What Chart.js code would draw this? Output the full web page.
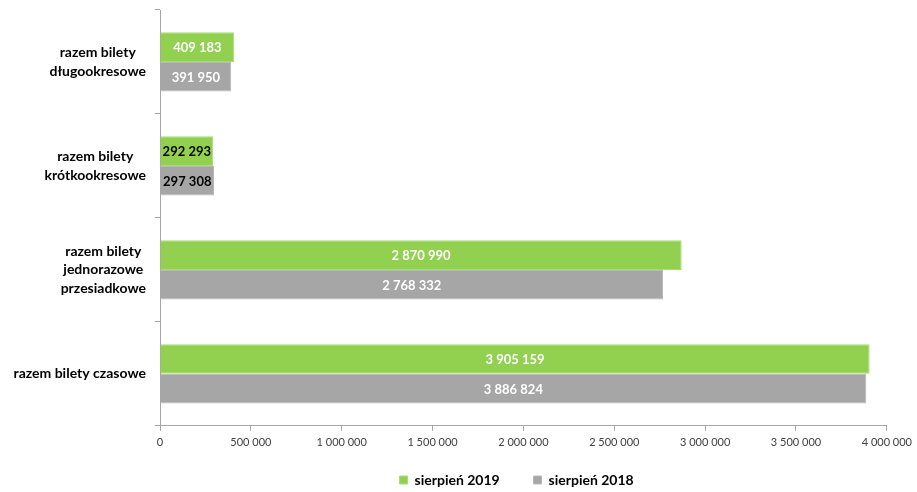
<!DOCTYPE html>
<html>
<head>
<meta charset="utf-8">
<script src="https://cdn.jsdelivr.net/npm/chart.js@4"></script>
<style>
  html, body { margin: 0; padding: 0; background: #fff; }
  #wrap { width: 917px; height: 492px; position: relative; }
</style>
</head>
<body>
<div id="wrap"><canvas id="ticketsChart"></canvas></div>
<script>
// Kategorie biletów (od góry)
const categories = [
    ['razem bilety', 'długookresowe'],
    ['razem bilety', 'krótkookresowe'],
    ['razem bilety', 'jednorazowe', 'przesiadkowe'],
    ['razem bilety czasowe']
];
const seriesNames = ['sierpień 2019', 'sierpień 2018'];
const values2019 = [409183, 292293, 2870990, 3905159];
const values2018 = [391950, 297308, 2768332, 3886824];
// kolor etykiety wartości dla każdej kategorii
const labelColors = ['#ffffff', '#000000', '#ffffff', '#ffffff'];
const xTicks = [0, 500000, 1000000, 1500000, 2000000, 2500000, 3000000, 3500000, 4000000];

const fmt = v => String(v).replace(/\B(?=(\d{3})+(?!\d))/g, ' ');

// Etykiety osi Y - wyśrodkowane między sobą, wyrównane do prawej
const yLabelsPlugin = {
    id: 'yLabels',
    afterDraw(chart) {
        const ctx = chart.ctx;
        const scale = chart.scales.y;
        ctx.save();
        ctx.font = 'bold 14px Lato';
        ctx.fillStyle = '#000';
        ctx.textBaseline = 'middle';
        ctx.textAlign = 'center';
        const lineH = 18.5;
        categories.forEach((lines, i) => {
            const y = scale.getPixelForValue(i);
            const w = Math.max(...lines.map(l => ctx.measureText(l).width));
            const cx = 146 - w / 2;
            const top = y - (lines.length - 1) * lineH / 2;
            lines.forEach((l, k) => ctx.fillText(l, cx, top + k * lineH));
        });
        ctx.restore();
    }
};

// Wartości na słupkach
const valueLabelsPlugin = {
    id: 'valueLabels',
    afterDatasetsDraw(chart) {
        const ctx = chart.ctx;
        ctx.save();
        ctx.font = 'bold 13px Lato';
        ctx.textAlign = 'center';
        ctx.textBaseline = 'middle';
        chart.data.datasets.forEach((ds, d) => {
            chart.getDatasetMeta(d).data.forEach((bar, i) => {
                ctx.fillStyle = labelColors[i];
                const cx = (bar.x + bar.base) / 2;
                ctx.fillText(fmt(ds.data[i]), cx, bar.y + 1);
            });
        });
        ctx.restore();
    }
};

const ctx = document.getElementById('ticketsChart').getContext('2d');
const chart = new Chart(ctx, {
    type: 'bar',
    data: {
        labels: categories.map(c => c.join(' ')),
        datasets: [{
            label: seriesNames[0],
            data: values2019,
            backgroundColor: '#92d050',
            borderColor: '#a8dc78',
            borderWidth: 1,
            categoryPercentage: 0.57,
            barPercentage: 1
        }, {
            label: seriesNames[1],
            data: values2018,
            backgroundColor: '#a6a6a6',
            borderColor: '#b8b8b8',
            borderWidth: 1,
            categoryPercentage: 0.57,
            barPercentage: 1
        }]
    },
    options: {
        indexAxis: 'y',
        responsive: true,
        maintainAspectRatio: false,
        animation: false,
        layout: { padding: { top: 10, right: 29, left: 0, bottom: -5 } },
        scales: {
            x: {
                min: 0,
                max: 4000000,
                afterBuildTicks: s => { s.ticks = xTicks.map(v => ({ value: v })); },
                grid: { drawOnChartArea: false, color: '#a6a6a6', tickLength: 5 },
                border: { color: '#a6a6a6' },
                ticks: {
                    callback: v => fmt(v),
                    color: '#404040',
                    font: { family: 'Lato', size: 11 },
                    maxRotation: 0,
                    padding: 5
                },
                afterFit: s => { s.height = s.height + 9; }
            },
            y: {
                grid: { drawOnChartArea: false, offset: true, color: '#a6a6a6', tickLength: 5 },
                border: { color: '#a6a6a6' },
                ticks: { display: false },
                afterFit: s => { s.width = 160; }
            }
        },
        plugins: {
            legend: {
                position: 'bottom',
                fullSize: false,
                labels: {
                    boxWidth: 8,
                    boxHeight: 8,
                    padding: 10,
                    color: '#000',
                    font: { family: 'Lato', size: 14, weight: 'bold' },
                    generateLabels: c => {
                        const items = Chart.defaults.plugins.legend.labels.generateLabels(c);
                        items.forEach((it, i) => {
                            it.text = it.text + (i < items.length - 1 ? '       ' : '    ');
                        });
                        return items;
                    }
                }
            },
            tooltip: { enabled: false }
        }
    },
    plugins: [yLabelsPlugin, valueLabelsPlugin]
});
</script>
</body>
</html>
